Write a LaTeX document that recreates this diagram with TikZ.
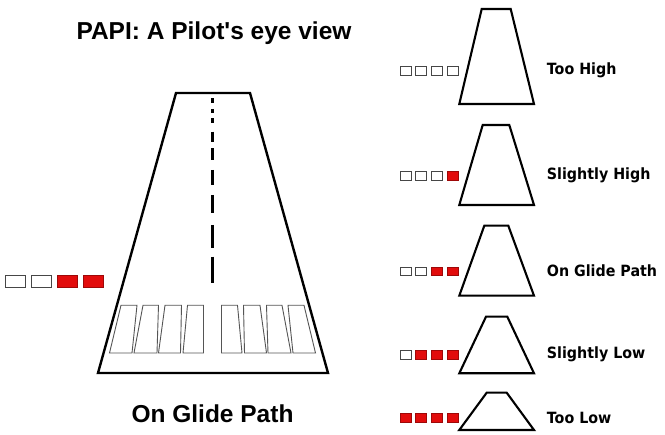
\documentclass[tikz,border=0pt]{standalone}
\usepackage{fontspec}
\setmainfont[Ligatures=TeXOff]{Liberation Sans}
\newfontfamily\lblfont[FakeStretch=0.92]{DejaVu Sans}
\definecolor{papired}{RGB}{226,12,12}
\definecolor{barline}{RGB}{85,85,85}
\definecolor{boxline}{RGB}{70,70,70}
\tikzset{
  runway/.style={draw=black,line width=2.4pt,line join=miter,fill=white},
  minirunway/.style={draw=black,line width=2.1pt,line join=miter,fill=white},
  bar/.style={draw=barline,line width=0.9pt},
  centerdash/.style={draw=black,line width=3pt},
  litebox/.style={draw=boxline,line width=0.9pt,fill=white},
  redbox/.style={draw=papired!70!black,line width=0.8pt,fill=papired},
  title/.style={font=\fontsize{24.5}{28}\selectfont\bfseries,anchor=base,inner sep=0pt},
  lbl/.style={font=\lblfont\fontsize{15.5}{18}\selectfont\bfseries,anchor=base west,inner sep=0pt}
}
\begin{document}
\begin{tikzpicture}[x=1pt,y=-1pt]
\useasboundingbox (0,0) rectangle (665,435);
\fill[white] (0,0) rectangle (665,435);

% title and caption
\node[title] (ttl) at (214,40) {PAPI: A Pilot's eye view};
\node[title] (cap) at (212.5,423) {On Glide Path};

% main runway
\draw[runway] (176,93) -- (250,93) -- (328,373) -- (98,373) -- cycle;
% centre line dashes
\foreach \a/\b in {98.3/103.3,109/113.5,118.3/123.5,131.7/141.7,148.3/160,170/185,195/213.3,225/248.3,256.7/283.3}
  \draw[centerdash] (212.7,\a) -- (212.7,\b);
% threshold bars (left set, mirrored about x=212.5)
\foreach \tl/\tr/\bl/\br in {121/137/109.5/132,143/158.5/134/157,165/181.5/158.5/180.5,187.5/203.5/183/203.5}{
  \draw[bar] (\tl,305.3) -- (\tr,305.3) -- (\br,353) -- (\bl,353) -- cycle;
  \draw[bar] ({425-\tl},305.3) -- ({425-\tr},305.3) -- ({425-\br},353) -- ({425-\bl},353) -- cycle;
}
% main PAPI lights
\foreach \i in {0,1,2,3}{
  \ifnum\i<2
    \draw[litebox] ({5+26*\i},275.5) rectangle ({25+26*\i},287);
  \else
    \draw[redbox] ({5+26*\i},275.5) rectangle ({25+26*\i},287);
  \fi
}

% small runways
\foreach \ty/\tl/\tr/\by/\ly/\base/\nred/\txt/\nm in {
  9/481.7/510.7/104/70.8/75/0/Too High/l1,
  125/482.7/509.3/205/175.8/180/1/Slightly High/l2,
  225.7/484.3/508.3/295.7/271.5/276.7/2/On Glide Path/l3,
  316.7/486/507.3/373.3/355/359/3/Slightly Low/l4,
  392.7/486.7/506.7/430/417.8/423.3/4/Too Low/l5}{
  \draw[minirunway] (\tl,\ty) -- (\tr,\ty) -- (534,\by) -- (459.3,\by) -- cycle;
  \foreach \i in {0,1,2,3}{
    \pgfmathtruncatemacro{\isred}{\i>=4-\nred ? 1 : 0}
    \ifnum\isred=1
      \draw[redbox] ({400+15.75*\i},{\ly-4.2}) rectangle ({411+15.75*\i},{\ly+4.2});
    \else
      \draw[litebox] ({400+15.75*\i},{\ly-4.2}) rectangle ({411+15.75*\i},{\ly+4.2});
    \fi
  }
  \node[lbl] (\nm) at (546.7,\base) {\txt};
}
\end{tikzpicture}
\end{document}
